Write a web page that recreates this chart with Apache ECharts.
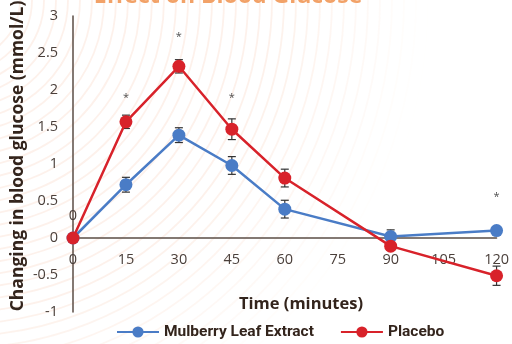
<!DOCTYPE html>
<html><head><meta charset="utf-8">
<script src="https://cdn.jsdelivr.net/npm/echarts@6/dist/echarts.min.js"></script>
<style>html,body{margin:0;padding:0;background:#fff}#c{width:512px;height:344px}</style>
</head><body><div id="c"></div>
<script>
var times = [0, 15, 30, 45, 60, 90, 120];
var mulberry = [0, 0.72, 1.39, 0.98, 0.39, 0.02, 0.10];
var mulberryErr = [0, 0.10, 0.10, 0.12, 0.12, 0.09, 0];
var placebo = [0, 1.57, 2.32, 1.47, 0.81, -0.11, -0.51];
var placeboErr = [0, 0.09, 0.09, 0.14, 0.12, 0, 0.13];
var starTimes = [15, 30, 45, 120];
var starValues = [1.89, 2.72, 1.89, 0.55];
var xTicks = [0, 15, 30, 45, 60, 75, 90, 105, 120];
var yTicks = [-1, -0.5, 0, 0.5, 1, 1.5, 2, 2.5, 3];

var BLUE = '#4a7cc6', RED = '#d8222a', AXIS = '#5b4d45', TXT = '#4a3f3a', DARK = '#33241c';

function pairs(vals) { return times.map(function (t, i) { return [t, vals[i]]; }); }
function errData(vals, errs) {
  var out = [];
  times.forEach(function (t, i) { if (errs[i] > 0) out.push([t, vals[i] - errs[i], vals[i] + errs[i]]); });
  return out;
}
function errRender(params, api) {
  var x = api.value(0);
  var lo = api.coord([x, api.value(1)]);
  var hi = api.coord([x, api.value(2)]);
  var w = 4;
  var st = { stroke: '#333', lineWidth: 1.2 };
  return { type: 'group', children: [
    { type: 'line', shape: { x1: lo[0], y1: lo[1], x2: hi[0], y2: hi[1] }, style: st },
    { type: 'line', shape: { x1: lo[0] - w, y1: lo[1], x2: lo[0] + w, y2: lo[1] }, style: st },
    { type: 'line', shape: { x1: hi[0] - w, y1: hi[1], x2: hi[0] + w, y2: hi[1] }, style: st }
  ]};
}

var arcs = [];
for (var r = 60; r <= 470; r += 12) {
  var op = r < 320 ? 0.13 : Math.max(0, 0.13 * (470 - r) / 150);
  arcs.push({ type: 'circle', z: -10, silent: true, shape: { cx: -40, cy: 0, r: r },
    style: { fill: 'none', stroke: 'rgba(240,150,100,' + op.toFixed(3) + ')', lineWidth: 1.8 } });
}

var chart = echarts.init(document.getElementById('c'));
chart.setOption({
  animation: false,
  backgroundColor: '#fff',
  textStyle: { fontFamily: 'Open Sans' },
  graphic: arcs.concat([
    { type: 'text', x: 228, y: -15, z: 5, style: { text: 'Effect on Blood Glucose', fill: '#f2a268', font: 'bold 23px "Open Sans"', textAlign: 'center', textVerticalAlign: 'top' } },
    { type: 'text', x: 301, y: 304, z: 5, style: { text: 'Time (minutes)', fill: DARK, font: 'bold 16.5px "Open Sans"', textAlign: 'center', textVerticalAlign: 'middle' } },
    { type: 'text', x: 18, y: 156, rotation: Math.PI / 2, z: 5, style: { text: 'Changing in blood glucose (mmol/L)', fill: DARK, font: 'bold 17.5px "Open Sans"', textAlign: 'center', textVerticalAlign: 'middle' } }
  ]),
  grid: { left: 73, right: 15, top: 16, bottom: 32, containLabel: false },
  legend: {
    bottom: -1, left: 111, itemWidth: 42, itemHeight: 14, itemGap: 26,
    textStyle: { color: DARK, fontWeight: 'bold', fontSize: 15.5, fontFamily: 'Roboto' },
    data: ['Mulberry Leaf Extract', 'Placebo']
  },
  xAxis: {
    type: 'value', min: xTicks[0], max: xTicks[xTicks.length - 1], interval: 15,
    offset: -74,
    axisLine: { onZero: false, lineStyle: { color: AXIS, width: 1.5 } },
    axisTick: { show: false }, splitLine: { show: false },
    axisLabel: { color: TXT, fontSize: 14.5, margin: 14, showMinLabel: true, showMaxLabel: true }
  },
  yAxis: {
    type: 'value', min: yTicks[0], max: yTicks[yTicks.length - 1], interval: 0.5,
    axisLine: { show: true, onZero: false, lineStyle: { color: AXIS, width: 1.5 } },
    axisTick: { show: false }, splitLine: { show: false },
    axisLabel: { color: TXT, fontSize: 14.5, margin: 15 }
  },
  series: [
    { name: 'errM', type: 'custom', renderItem: errRender, data: errData(mulberry, mulberryErr), z: 1, silent: true },
    { name: 'errP', type: 'custom', renderItem: errRender, data: errData(placebo, placeboErr), z: 1, silent: true },
    { name: 'Mulberry Leaf Extract', type: 'line', data: pairs(mulberry), color: BLUE,
      symbol: 'circle', symbolSize: 13, lineStyle: { width: 2.5, color: BLUE }, itemStyle: { color: BLUE }, z: 3,
      label: { show: true, position: 'top', distance: 8, color: TXT, fontSize: 14.5,
        formatter: function (p) { return p.dataIndex === 0 ? String(p.value[1]) : ''; } } },
    { name: 'Placebo', type: 'line', data: pairs(placebo), color: RED,
      symbol: 'circle', symbolSize: 13, lineStyle: { width: 2.5, color: RED }, itemStyle: { color: RED }, z: 4 },
    { name: 'stars', type: 'scatter', data: starTimes.map(function (t, i) { return [t, starValues[i]]; }),
      symbolSize: 1, itemStyle: { color: 'rgba(0,0,0,0)' }, silent: true,
      label: { show: true, position: 'inside', formatter: '*', color: '#222', fontSize: 11 } }
  ]
});
</script></body></html>
